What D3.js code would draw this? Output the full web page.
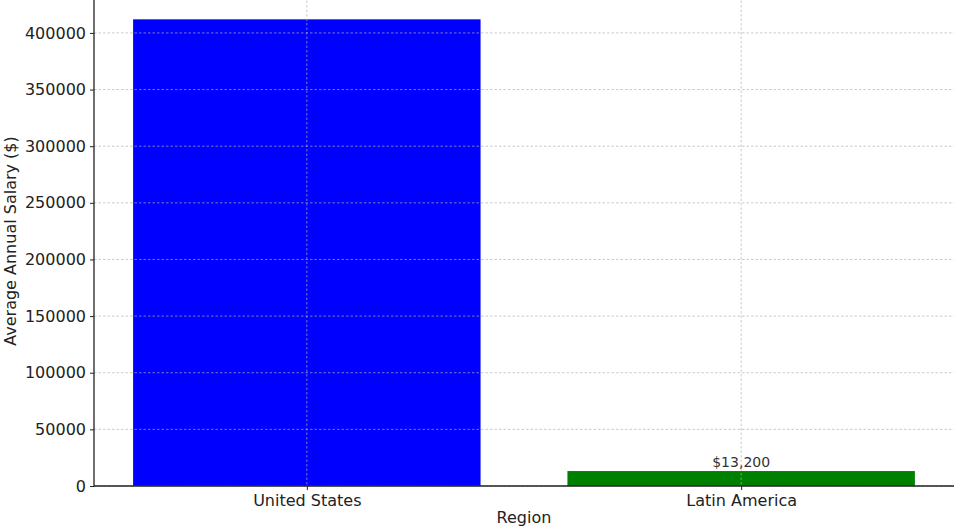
<!DOCTYPE html>
<html>
<head>
<meta charset="utf-8">
<script src="https://cdn.jsdelivr.net/npm/d3@7"></script>
<style>
  body { margin: 0; background: #fff; }
  text { font-family: "DejaVu Sans", sans-serif; }
</style>
</head>
<body>
<div id="chart"></div>
<script>
// Data
const regions = ["United States", "Latin America"];
const salaries = [412000, 13200];
const barColors = ["#0000ff", "#008000"];
const yTicks = [0, 50000, 100000, 150000, 200000, 250000, 300000, 350000, 400000];
// only the Latin America bar carries a value label
const barLabels = [null, "$13,200"];

const W = 959, H = 532;
const margin = { top: -4, right: 5, bottom: 46, left: 94 };
const width = W - margin.left - margin.right;
const height = H - margin.top - margin.bottom;

const svg = d3.select("#chart")
  .append("svg")
  .attr("width", W)
  .attr("height", H)
  .append("g")
  .attr("transform", `translate(${margin.left},${margin.top})`);

// matplotlib-like limits: bars of width 0.8, 5% margins
const xLin = d3.scaleLinear().domain([-0.49, 1.49]).range([0, width]);
const yScale = d3.scaleLinear().domain([0, d3.max(salaries) * 1.05]).range([height, 0]);

// Bars
svg.selectAll(".bar")
  .data(regions)
  .enter()
  .append("rect")
  .attr("class", "bar")
  .attr("x", (d, i) => xLin(i - 0.4))
  .attr("width", (d, i) => xLin(i + 0.4) - xLin(i - 0.4))
  .attr("y", (d, i) => yScale(salaries[i]))
  .attr("height", (d, i) => height - yScale(salaries[i]))
  .attr("fill", (d, i) => barColors[i]);

// Grid (drawn over bars)
const grid = svg.append("g").attr("class", "grid");
grid.selectAll(".hgrid")
  .data(yTicks)
  .enter()
  .append("line")
  .attr("x1", 0).attr("x2", width)
  .attr("y1", d => yScale(d)).attr("y2", d => yScale(d))
  .attr("stroke", "#b0b0b0")
  .attr("stroke-opacity", 0.75)
  .attr("stroke-dasharray", "2.5,2")
  .attr("stroke-width", 0.9);
grid.selectAll(".vgrid")
  .data(regions)
  .enter()
  .append("line")
  .attr("x1", (d, i) => xLin(i)).attr("x2", (d, i) => xLin(i))
  .attr("y1", 0).attr("y2", height)
  .attr("stroke", "#b0b0b0")
  .attr("stroke-opacity", 0.75)
  .attr("stroke-dasharray", "2.5,2")
  .attr("stroke-width", 0.9);

// Axes
const yAxis = svg.append("g")
  .call(d3.axisLeft(yScale).tickValues(yTicks).tickFormat(d3.format("d")).tickSize(4).tickPadding(4));
const xAxis = svg.append("g")
  .attr("transform", `translate(0,${height})`)
  .call(d3.axisBottom(xLin).tickValues([0, 1]).tickFormat(i => regions[i]).tickSize(4).tickPadding(5));

[yAxis, xAxis].forEach(ax => {
  ax.select(".domain").attr("stroke", "#222").attr("stroke-width", 1.3);
  ax.selectAll(".tick line").attr("stroke", "#222").attr("stroke-width", 1);
  ax.selectAll(".tick text")
    .attr("fill", "#222")
    .style("font-size", "16px")
    .style("font-family", "DejaVu Sans, sans-serif");
});
// matplotlib style: no end caps on the domain paths
yAxis.select(".domain").attr("d", `M0,${height}V0`);
xAxis.select(".domain").attr("d", `M0,0H${width}`);

// Value labels
svg.selectAll(".value")
  .data(regions)
  .enter()
  .filter((d, i) => barLabels[i])
  .append("text")
  .attr("x", (d, i) => xLin(regions.indexOf(d)))
  .attr("y", d => yScale(salaries[regions.indexOf(d)]) - 4)
  .attr("text-anchor", "middle")
  .attr("fill", "#333")
  .style("font-size", "14px")
  .text(d => barLabels[regions.indexOf(d)]);

// Axis titles
svg.append("text")
  .attr("x", width / 2)
  .attr("y", height + 37)
  .attr("text-anchor", "middle")
  .attr("fill", "#222")
  .style("font-size", "16px")
  .text("Region");

svg.append("text")
  .attr("transform", `translate(${-78},${height / 2}) rotate(-90)`)
  .attr("text-anchor", "middle")
  .attr("fill", "#222")
  .style("font-size", "16px")
  .text("Average Annual Salary ($)");
</script>
</body>
</html>
